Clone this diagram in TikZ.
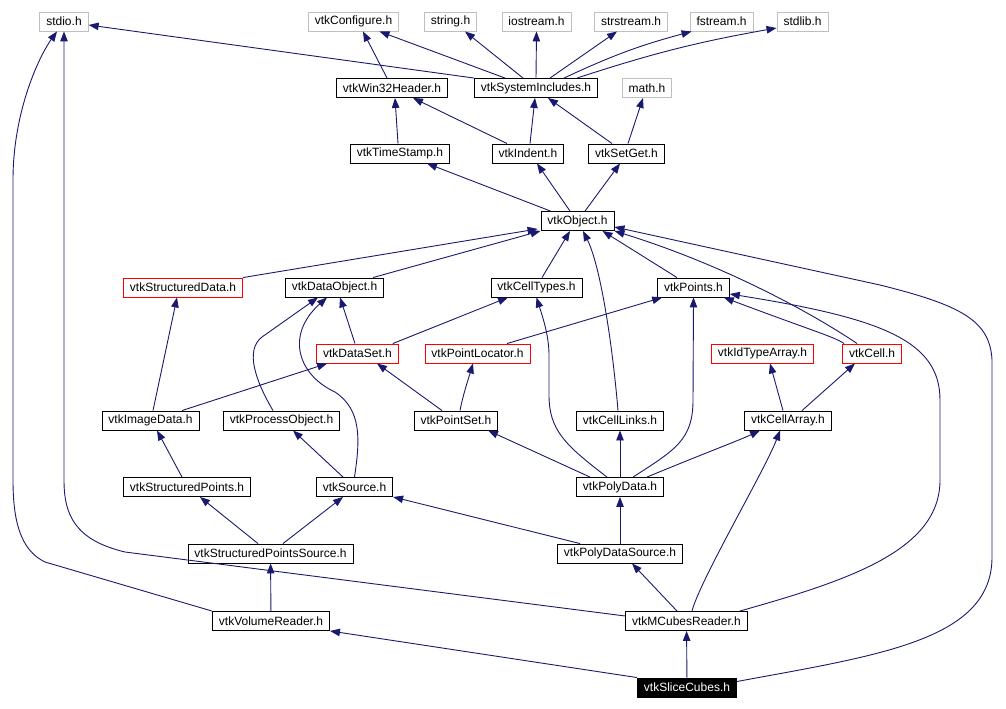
\documentclass[tikz,border=0pt]{standalone}
\usepackage{fontspec}
\setmainfont{Liberation Sans}
\usetikzlibrary{arrows.meta}
\definecolor{edgeblue}{RGB}{25,25,112}
\definecolor{sysgray}{RGB}{191,191,191}

\begin{document}
\begin{tikzpicture}[
    x=1pt, y=-1pt,
    box/.style={rectangle, draw, line width=0.9pt, minimum height=19pt, inner xsep=6.5pt, inner ysep=0pt, font=\fontsize{12}{14}\selectfont},
    sysbox/.style={box, draw=sysgray},
    redbox/.style={box, draw=red},
    rootbox/.style={box, draw=black, fill=black, text=white},
    arrow/.style={-{Triangle[length=10pt,width=7.5pt]}, edgeblue, line width=0.9pt},
]
\useasboundingbox (0,0) rectangle (1006,709);

% System headers
\node[sysbox] (stdio) at (64,21.5) {stdio.h};
\node[sysbox] (vtkconf) at (353.5,21.5) {vtkConfigure.h};
\node[sysbox] (string) at (450.5,21.5) {string.h};
\node[sysbox] (iostream) at (536.5,21.5) {iostream.h};
\node[sysbox] (strstream) at (631,21.5) {strstream.h};
\node[sysbox] (fstream) at (721.5,21.5) {fstream.h};
\node[sysbox] (stdlib) at (802.5,21.5) {stdlib.h};
\node[sysbox] (mathh) at (647,88) {math.h};

% Common
\node[box] (win32) at (392,88) {vtkWin32Header.h};
\node[box] (sysinc) at (536,88) {vtkSystemIncludes.h};
\node[box] (timestamp) at (400,153.5) {vtkTimeStamp.h};
\node[box] (indent) at (528,153.5) {vtkIndent.h};
\node[box] (setget) at (626.5,153.5) {vtkSetGet.h};
\node[box] (object) at (577.5,221) {vtkObject.h};

% Data model
\node[redbox] (structdata) at (183,287.5) {vtkStructuredData.h};
\node[box] (dataobj) at (334.5,287.5) {vtkDataObject.h};
\node[box] (celltypes) at (536.5,287.5) {vtkCellTypes.h};
\node[box] (points) at (693.5,287.5) {vtkPoints.h};
\node[redbox] (dataset) at (357.5,353.5) {vtkDataSet.h};
\node[redbox] (ptlocator) at (477.5,353.5) {vtkPointLocator.h};
\node[redbox] (idtype) at (762.5,353.5) {vtkIdTypeArray.h};
\node[redbox] (cell) at (872,353.5) {vtkCell.h};
\node[box] (imagedata) at (150.5,420.5) {vtkImageData.h};
\node[box] (procobj) at (281.5,420.5) {vtkProcessObject.h};
\node[box] (pointset) at (456,420.5) {vtkPointSet.h};
\node[box] (celllinks) at (620,420.5) {vtkCellLinks.h};
\node[box] (cellarray) at (788,420.5) {vtkCellArray.h};
\node[box] (structpts) at (187,487) {vtkStructuredPoints.h};
\node[box] (source) at (354.5,487) {vtkSource.h};
\node[box] (polydata) at (620,487) {vtkPolyData.h};

% Sources and readers
\node[box] (spsource) at (270.5,553.5) {vtkStructuredPointsSource.h};
\node[box] (pdsource) at (620,553.5) {vtkPolyDataSource.h};
\node[box] (volreader) at (271,621) {vtkVolumeReader.h};
\node[box] (mcubes) at (686.5,621) {vtkMCubesReader.h};
\node[rootbox] (slice) at (687,687.5) {vtkSliceCubes.h};

% Top layer
\draw[arrow] (sysinc.north west) -- ([yshift=-3.5pt]stdio.east);
\draw[arrow] ([xshift=-31pt]sysinc.north) -- ([xshift=26pt]vtkconf.south);
\draw[arrow] ([xshift=-13pt]sysinc.north) -- ([xshift=14.5pt]string.south);
\draw[arrow] (sysinc.north) -- (iostream.south);
\draw[arrow] ([xshift=14pt]sysinc.north) -- ([xshift=-14pt]strstream.south);
\draw[arrow] ([xshift=28pt]sysinc.north) to[bend left=5] ([xshift=2pt]fstream.south west);
\draw[arrow] ([xshift=41pt]sysinc.north) to[bend left=4] ([yshift=-6.5pt]stdlib.west);
\draw[arrow] ([xshift=-5pt]win32.north) -- ([xshift=9.5pt]vtkconf.south);
\draw[arrow] ([xshift=-2pt]timestamp.north) -- ([xshift=3pt]win32.south);
\draw[arrow] ([xshift=-21pt]indent.north) -- ([xshift=21pt]win32.south);
\draw[arrow] ([xshift=2pt]indent.north) -- ([xshift=-1pt]sysinc.south);
\draw[arrow] ([xshift=-14.5pt]setget.north) -- ([xshift=12pt]sysinc.south);
\draw[arrow] ([xshift=1.5pt]setget.north) -- ([xshift=-4pt]mathh.south);
\draw[arrow] ([xshift=-27pt]object.north) -- ([xshift=27pt]timestamp.south);
\draw[arrow] ([xshift=-7.5pt]object.north) -- ([xshift=9pt]indent.south);
\draw[arrow] ([xshift=7.5pt]object.north) -- ([xshift=-6.5pt]setget.south);

% Into vtkObject
\draw[arrow] (structdata.north east) -- ([xshift=-3pt,yshift=2pt]object.south west);
\draw[arrow] ([xshift=38.5pt]dataobj.north) -- (object.south west);
\draw[arrow] ([xshift=5.5pt]celltypes.north) -- ([xshift=-7.5pt]object.south);
\draw[arrow] ([xshift=-2pt]celllinks.north) .. controls (612,340) and (600,265) .. ([xshift=5.5pt]object.south);
\draw[arrow] ([xshift=-16.5pt]points.north) -- ([xshift=25pt]object.south);
\draw[arrow] ([xshift=-15pt]cell.north) .. controls (830,325) and (740,270) .. (object.south east);
\draw[arrow] ([yshift=6pt]slice.east) .. controls (880,655) and (992,640) .. (992,557) -- (992,360) .. controls (990,320) and (960,305) .. (880,285) -- ([yshift=-6pt]object.east);

% Into vtkPoints
\draw[arrow] ([xshift=2pt]cell.north west) .. controls (835,337) and (810,330) .. ([xshift=-6pt]points.south east);
\draw[arrow] ([xshift=-8pt]mcubes.north east) .. controls (850,580) and (940,550) .. (940,480) -- (940,400) .. controls (940,340) and (880,318) .. ([yshift=-6.5pt]points.east);
\draw[arrow] ([xshift=29.5pt]ptlocator.north) -- ([xshift=5pt]points.south west);
\draw[arrow] ([xshift=13pt]polydata.north) .. controls (675,450) and (693,440) .. (693,400) -- (points.south);

% Into vtkDataObject and vtkCellTypes
\draw[arrow] ([xshift=-2.5pt]dataset.north) -- ([xshift=5.5pt]dataobj.south);
\draw[arrow] ([xshift=-8.5pt]procobj.north) .. controls (255,380) and (245,350) .. (262,337) -- ([xshift=-16.5pt]dataobj.south);
\draw[arrow] (source.north) .. controls (360,440) and (362,410) .. (335,392) .. controls (298,375) and (285,335) .. ([xshift=-7.5pt]dataobj.south);
\draw[arrow] ([xshift=-6pt]dataset.north east) -- ([xshift=-28.5pt]celltypes.south);
\draw[arrow] ([xshift=-13pt]polydata.north) .. controls (565,445) and (549,430) .. (549,395) -- (549,355) .. controls (549,335) and (542,315) .. (celltypes.south);

% Middle layers
\draw[arrow] ([xshift=2.5pt]imagedata.north) -- ([xshift=-6pt]structdata.south);
\draw[arrow] ([xshift=31.5pt]imagedata.north) -- ([xshift=11pt]dataset.south west);
\draw[arrow] ([xshift=-14pt]pointset.north) -- ([xshift=19.5pt]dataset.south);
\draw[arrow] ([xshift=4pt]pointset.north) .. controls (463,395) and (468,380) .. ([xshift=-4.5pt]ptlocator.south);
\draw[arrow] ([xshift=-5pt]cellarray.north) -- ([xshift=7.5pt]idtype.south);
\draw[arrow] ([xshift=14pt]cellarray.north) -- ([xshift=-17pt]cell.south);
\draw[arrow] ([xshift=-5pt]structpts.north) -- ([xshift=6.5pt]imagedata.south);
\draw[arrow] ([xshift=-11.5pt]source.north) -- ([xshift=11.5pt]procobj.south);
\draw[arrow] ([xshift=-30pt]polydata.north) -- ([xshift=32pt]pointset.south);
\draw[arrow] (polydata) -- (celllinks);
\draw[arrow] ([xshift=27pt]polydata.north) .. controls (700,455) and (740,440) .. ([xshift=-28pt]cellarray.south);
\draw[arrow] ([xshift=-12.5pt]spsource.north) -- ([xshift=13pt]structpts.south);
\draw[arrow] ([xshift=12.5pt]spsource.north) -- ([xshift=-11.5pt]source.south);
\draw[arrow] ([xshift=-40pt]pdsource.north) -- (source.south east);
\draw[arrow] (pdsource) -- (polydata);

% Readers
\draw[arrow] (volreader) -- (spsource);
\draw[arrow] (volreader.north west) -- (45,562) .. controls (20,550) and (13,520) .. (13,480) -- (13,180) .. controls (13,110) and (40,55) .. ([xshift=-7pt]stdio.south);
\draw[arrow] ([yshift=5pt]mcubes.west) -- (125,552) .. controls (75,540) and (64,515) .. (64,480) -- (stdio.south);
\draw[arrow] ([xshift=-9.5pt]mcubes.north) -- ([xshift=12pt]pdsource.south);
\draw[arrow] ([xshift=5.5pt]mcubes.north) .. controls (700,580) and (765,470) .. ([xshift=-8pt]cellarray.south);
\draw[arrow] (slice.north west) -- (volreader.south east);
\draw[arrow] (slice) -- (mcubes);

\end{tikzpicture}
\end{document}
